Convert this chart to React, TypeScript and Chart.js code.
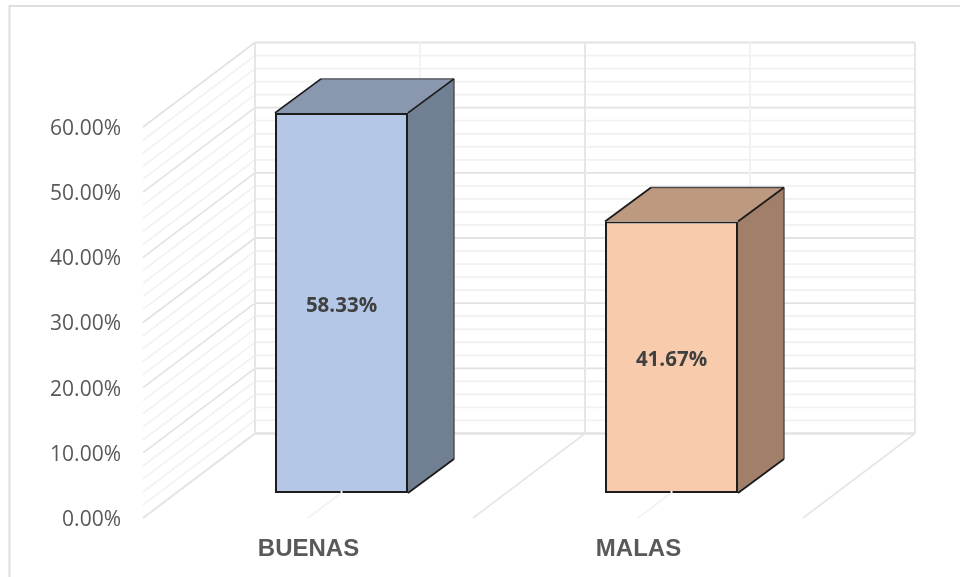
import React, { useEffect, useRef } from "react";
import { Chart, registerables } from "chart.js";

Chart.register(...registerables);

const categories = ["BUENAS", "MALAS"];
const percentages = [58.33, 41.67];
const frontColors = ["#B4C7E7", "#F8CBAD"];
const topColors = ["#8998AF", "#BD997F"];
const sideColors = ["#717F93", "#A17F69"];
const yMin = 0;
const yMax = 60;
const majorStep = 10;
const minorStep = 2;

// oblique projection of the 3D box
const WALL_DX = 112;
const WALL_DY = 84.5;
const BAR_DX = 33.5;
const BAR_DY = 25;
const BOX_DX = 46;
const BOX_DY = 34;

const fmt = (v: number) => v.toFixed(2) + "%";

const line = (ctx: any, x1: number, y1: number, x2: number, y2: number, color: string, w: number) => {
  ctx.beginPath();
  ctx.moveTo(x1, y1);
  ctx.lineTo(x2, y2);
  ctx.strokeStyle = color;
  ctx.lineWidth = w;
  ctx.stroke();
};

const scene3d = {
  id: "scene3d",
  beforeDraw(chart: any) {
    const ctx = chart.ctx;
    ctx.save();
    ctx.beginPath();
    ctx.moveTo(9.5, 577);
    ctx.lineTo(9.5, 6);
    ctx.lineTo(960, 6);
    ctx.strokeStyle = "#DEDEDE";
    ctx.lineWidth = 2;
    ctx.stroke();
    ctx.restore();
  },
  beforeDatasetsDraw(chart: any) {
    const ctx = chart.ctx;
    const { x, y } = chart.scales;
    const L = x.left;
    const R = x.right;
    ctx.save();
    const step = (R - L) / (categories.length * 2);
    // minor first, major on top
    for (let pass = 0; pass < 2; pass++) {
      for (let v = yMin; v <= yMax; v += minorStep) {
        const major = v % majorStep === 0;
        if (major !== (pass === 1)) continue;
        const py = y.getPixelForValue(v);
        const c = major ? "#E2E2E2" : "#F1F1F1";
        line(ctx, L, py, L + WALL_DX, py - WALL_DY, c, 1.6);
        line(ctx, L + WALL_DX, py - WALL_DY, R + WALL_DX, py - WALL_DY, c, v === yMin ? 2.4 : 1.8);
      }
    }
    const bottom = y.getPixelForValue(yMin);
    const top = y.getPixelForValue(yMax);
    for (let i = 0; i <= categories.length * 2; i++) {
      const px = L + i * step;
      const c = i % 2 === 0 ? "#E6E6E6" : "#F2F2F2";
      line(ctx, px + WALL_DX, top - WALL_DY, px + WALL_DX, bottom - WALL_DY, c, 2);
      line(ctx, px, bottom, px + WALL_DX, bottom - WALL_DY, c, 1.6);
    }
    ctx.restore();
  },
  beforeDatasetDraw(chart: any, args: any) {
    const ctx = chart.ctx;
    const meta = args.meta;
    ctx.save();
    ctx.translate(BAR_DX, -BAR_DY);
    meta.data.forEach((bar: any, i: number) => {
      const xl = bar.x - bar.width / 2;
      const xr = bar.x + bar.width / 2;
      const yt = bar.y;
      const yb = bar.base;
      ctx.lineJoin = "round";
      ctx.beginPath();
      ctx.moveTo(xr, yt);
      ctx.lineTo(xr + BOX_DX, yt - BOX_DY);
      ctx.lineTo(xr + BOX_DX, yb - BOX_DY);
      ctx.lineTo(xr, yb);
      ctx.closePath();
      ctx.fillStyle = sideColors[i];
      ctx.fill();
      ctx.beginPath();
      ctx.moveTo(xl, yt);
      ctx.lineTo(xl + BOX_DX, yt - BOX_DY);
      ctx.lineTo(xr + BOX_DX, yt - BOX_DY);
      ctx.lineTo(xr, yt);
      ctx.closePath();
      ctx.fillStyle = topColors[i];
      ctx.fill();
      // back edges are softer
      line(ctx, xl + BOX_DX, yt - BOX_DY, xr + BOX_DX, yt - BOX_DY, "#4A4A4A", 1.4);
      line(ctx, xr + BOX_DX, yt - BOX_DY, xr + BOX_DX, yb - BOX_DY, "#4A4A4A", 1.4);
      // near edges
      line(ctx, xl, yt, xl + BOX_DX, yt - BOX_DY, "#1C1C1C", 1.8);
      line(ctx, xr, yt, xr + BOX_DX, yt - BOX_DY, "#1C1C1C", 1.8);
      line(ctx, xr, yb, xr + BOX_DX, yb - BOX_DY, "#1C1C1C", 1.8);
    });
  },
  afterDatasetDraw(chart: any, args: any) {
    const ctx = chart.ctx;
    const meta = args.meta;
    meta.data.forEach((bar: any, i: number) => {
      // the floor's centre line nicks the bar's lower edge
      line(ctx, bar.x, bar.base - 2, bar.x, bar.base + 1, "#F4F4F4", 2);
      ctx.font = "bold 20.5px 'Open Sans'";
      ctx.fillStyle = "#404040";
      ctx.textAlign = "center";
      ctx.textBaseline = "middle";
      ctx.fillText(fmt(percentages[i]), bar.x, (bar.y + bar.base) / 2 + 3);
    });
    ctx.restore();
  },
};

export default function App() {
  const ref = useRef<HTMLCanvasElement>(null);
  useEffect(() => {
    document.body.style.margin = "0";
    const chart = new Chart(ref.current!, {
      type: "bar",
      data: {
        labels: categories,
        datasets: [
          {
            data: percentages,
            backgroundColor: frontColors,
            borderColor: "#1C1C1C",
            borderWidth: 2,
            borderSkipped: false,
            barPercentage: 0.403,
            categoryPercentage: 1,
            clip: false as any,
          },
        ],
      },
      options: {
        animation: false,
        responsive: false,
        layout: { padding: { top: 127, right: 157, bottom: 0, left: 0 } },
        plugins: { legend: { display: false }, tooltip: { enabled: false }, title: { display: false } },
        scales: {
          x: {
            grid: { display: false, drawTicks: false },
            border: { display: false },
            afterFit: (s: any) => {
              s.height = 59;
            },
            ticks: {
              padding: 17,
              labelOffset: 0.5,
              color: "#595959",
              font: { family: "'Liberation Sans'", size: 24, weight: "bold" },
              maxRotation: 0,
            },
          },
          y: {
            min: yMin,
            max: yMax,
            grid: { display: false, drawTicks: false },
            border: { display: false },
            afterFit: (s: any) => {
              s.width = 143;
            },
            ticks: {
              stepSize: majorStep,
              padding: 22,
              labelOffset: 2,
              color: "#595959",
              font: { family: "'Open Sans'", size: 21 },
              callback: (v: any) => fmt(Number(v)),
            },
          },
        },
      },
      plugins: [scene3d],
    });
    return () => chart.destroy();
  }, []);
  return <canvas ref={ref} width={960} height={577} style={{ display: "block", filter: "blur(0.4px)" }} />;
}
